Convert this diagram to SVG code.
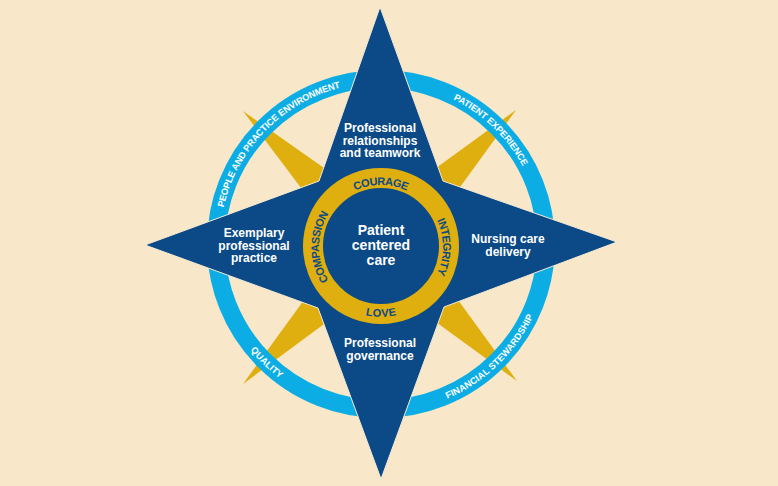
<svg xmlns="http://www.w3.org/2000/svg" width="778" height="486" viewBox="0 0 778 486">
<style>
.t{font-family:"Liberation Sans",Arial,sans-serif;font-weight:bold;text-anchor:middle}
.w{fill:#ffffff}
.arm{font-size:12px}
.ctr{font-size:14px}
.rl{font-size:9.2px}
.val{font-size:11px;fill:#0b4a86}
</style>
<defs>
<path id="ringTop" d="M216,244 A165,165 0 0 1 546,244"/>
<path id="ringBot" d="M216,244 A165,165 0 0 0 546,244"/>
<path id="cTop" d="M315,247 A66,66 0 0 1 447,247"/>
<path id="cRight" d="M381,181 A66,66 0 0 1 381,313"/>
<path id="cLeft" d="M381,313 A66,66 0 0 1 381,181"/>
<path id="cBot" d="M315,247 A66,66 0 0 0 447,247"/>
</defs>
<rect width="778" height="486" fill="#f8e7c8"/>
<g id="gold-star">
<path d="M243,111 L381,208 L516,110 L418,245 L517,381 L381,282 L243,384 L344,245 Z" fill="#dfae0f"/>
</g>
<g id="outer-ring">
<circle cx="381" cy="244" r="165" fill="none" stroke="#0cade4" stroke-width="18"/>
<text class="t w rl" dy="3.3"><textPath href="#ringTop" startOffset="24.6%">PEOPLE AND PRACTICE ENVIRONMENT</textPath></text>
<text class="t w rl" dy="3.3"><textPath href="#ringTop" startOffset="74.4%">PATIENT EXPERIENCE</textPath></text>
<text class="t w rl" dy="3.3"><textPath href="#ringBot" startOffset="25.6%">QUALITY</textPath></text>
<text class="t w rl" dy="3.3"><textPath href="#ringBot" startOffset="74.4%">FINANCIAL STEWARDSHIP</textPath></text>
</g>
<g id="compass-star">
<path d="M380,7 L443,181 L617,242 L444,307 L381,479 L318,308 L145,245 L319,181 Z" fill="#0b4a86" stroke="#f6ead3" stroke-width="1"/>
</g>
<g id="values-ring">
<circle cx="381" cy="246" r="68" fill="none" stroke="#dfae0f" stroke-width="20"/>
<text class="t val" dy="4"><textPath href="#cTop" startOffset="50%">COURAGE</textPath></text>
<text class="t val" dy="4"><textPath href="#cRight" startOffset="50%">INTEGRITY</textPath></text>
<text class="t val" dy="4"><textPath href="#cBot" startOffset="50%">LOVE</textPath></text>
<text class="t val" dy="4"><textPath href="#cLeft" startOffset="50%">COMPASSION</textPath></text>
</g>
<g id="center">
<text class="t w ctr" x="381" y="235">Patient</text>
<text class="t w ctr" x="381" y="250">centered</text>
<text class="t w ctr" x="381" y="265">care</text>
</g>
<g id="north">
<text class="t w arm" x="380" y="132">Professional</text>
<text class="t w arm" x="380" y="144.5">relationships</text>
<text class="t w arm" x="380" y="157">and teamwork</text>
</g>
<g id="west">
<text class="t w arm" x="254" y="237">Exemplary</text>
<text class="t w arm" x="254" y="249.5">professional</text>
<text class="t w arm" x="254" y="262">practice</text>
</g>
<g id="east">
<text class="t w arm" x="508" y="243">Nursing care</text>
<text class="t w arm" x="508" y="255.5">delivery</text>
</g>
<g id="south">
<text class="t w arm" x="380" y="347">Professional</text>
<text class="t w arm" x="380" y="360">governance</text>
</g>
</svg>
